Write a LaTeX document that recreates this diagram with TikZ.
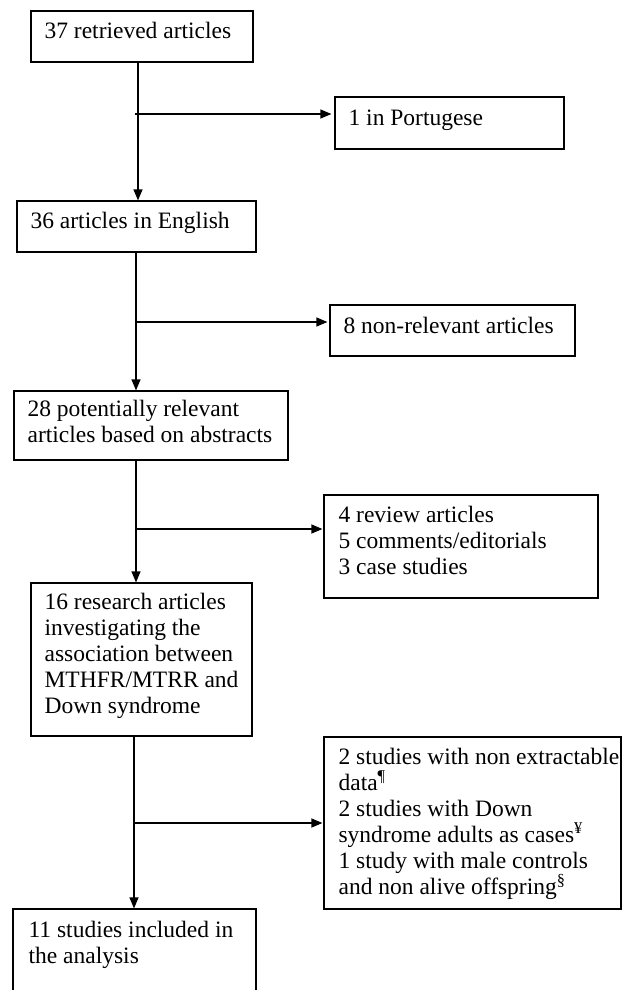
\documentclass[tikz,border=0pt]{standalone}
\usepackage{fontspec}
\setmainfont{Liberation Serif}
\usetikzlibrary{arrows.meta,fit,calc}
\tikzset{
  box/.style={draw, line width=1.2pt, inner sep=0pt, rectangle},
  txt/.style={anchor=base west, inner sep=0pt, font=\fontsize{23.5}{26}\selectfont},
  arr/.style={line width=1.2pt, -{Triangle[length=11pt,width=9pt]}},
}
\newcommand{\tl}[2]{\parbox[t]{#1}{\raggedright #2}}
\begin{document}
\begin{tikzpicture}[x=1pt,y=-1pt]
\useasboundingbox (0,0) rectangle (622,990);
\clip (0,0) rectangle (622,990);
% boxes
\node[box, fit={(31,11) (253,62)}] (b1) {};
\node[box, fit={(335,97) (564,149)}] (p1) {};
\node[box, fit={(17,201) (256,252)}] (b2) {};
\node[box, fit={(330,305) (575,356)}] (p2) {};
\node[box, fit={(14,391) (288,460)}] (b3) {};
\node[box, fit={(324,495) (598,598)}] (p3) {};
\node[box, fit={(31,583) (252,736)}] (b4) {};
\node[box, fit={(324,737) (621,909)}] (p4) {};
\node[box, fit={(13,909) (256,1010)}] (b5) {};
% texts
\node[txt] (t1) at ($(b1.north west)+(14,28)$) {\tl{240pt}{37 retrieved articles}};
\node[txt] (t2) at ($(p1.north west)+(14,29)$) {\tl{240pt}{1 in Portugese}};
\node[txt] (t3) at ($(b2.north west)+(14,28)$) {\tl{240pt}{36 articles in English}};
\node[txt] (t4) at ($(p2.north west)+(14,29)$) {\tl{240pt}{8 non-relevant articles}};
\node[txt] (t5) at ($(b3.north west)+(14,26)$) {\tl{280pt}{28 potentially relevant\\articles based on abstracts}};
\node[txt] (t6) at ($(p3.north west)+(15,28)$) {\tl{280pt}{4 review articles\\5 comments/editorials\\3 case studies}};
\node[txt] (t7) at ($(b4.north west)+(14,27)$) {\tl{240pt}{16 research articles\\investigating the\\association between\\MTHFR/MTRR and\\Down syndrome}};
\node[txt] (t8) at ($(p4.north west)+(15,28)$) {\tl{300pt}{2 studies with non extractable\\data\textsuperscript{¶}\\2 studies with Down\\syndrome adults as cases\textsuperscript{¥}\\1 study with male controls\\and non alive offspring\textsuperscript{§}}};
\node[txt] (t9) at ($(b5.north west)+(16,29)$) {\tl{240pt}{11 studies included in\\the analysis}};
% vertical positions
\coordinate (v1) at (138,0);
\coordinate (v2) at (136,0);
\coordinate (v3) at (136,0);
\coordinate (v4) at (134,0);
% junctions
\coordinate (j1) at (135,114);
\coordinate (j2) at (136,322);
\coordinate (j3) at (136,529);
\coordinate (j4) at (134,823);
% main flow
\draw[arr] (b1.south -| v1) -- (b2.north -| v1);
\draw[arr] (b2.south -| v2) -- (b3.north -| v2);
\draw[arr] (b3.south -| v3) -- (b4.north -| v3);
\draw[arr] (b4.south -| v4) -- (b5.north -| v4);
% branches
\draw[arr, shorten >=3pt] (j1) -- (j1 -| p1.west);
\draw[arr, shorten >=2pt] (j2) -- (j2 -| p2.west);
\draw[arr, shorten >=1pt] (j3) -- (j3 -| p3.west);
\draw[arr, shorten >=1pt] (j4) -- (j4 -| p4.west);
\end{tikzpicture}
\end{document}
